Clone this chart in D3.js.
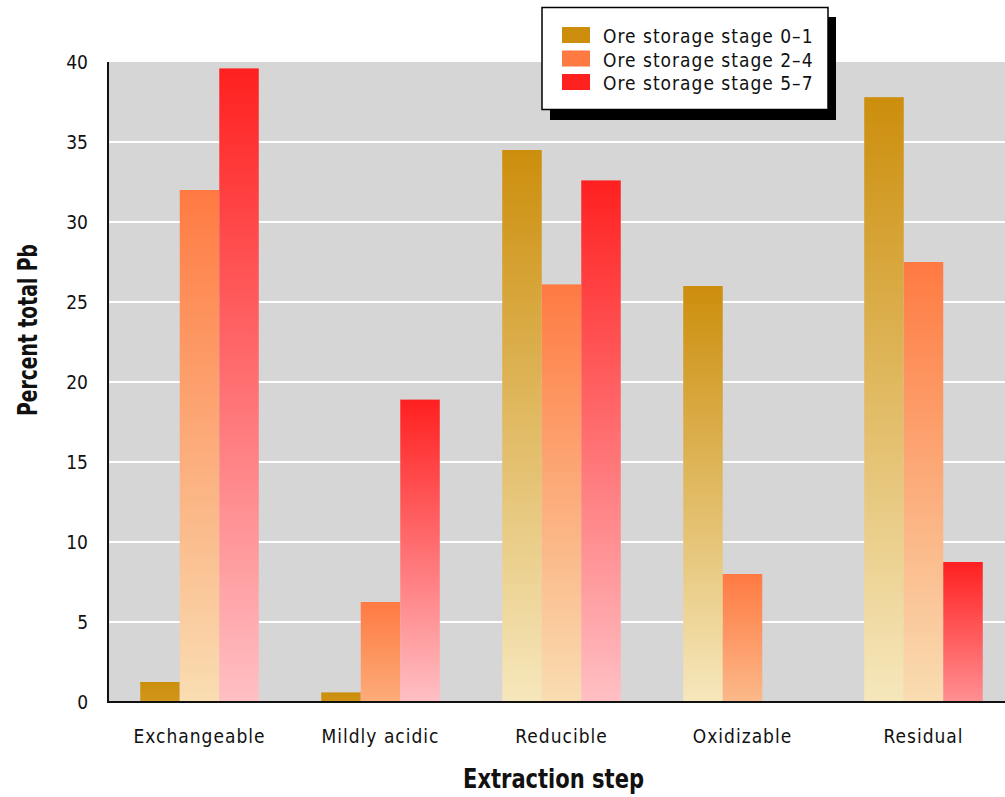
<!DOCTYPE html>
<html><head><meta charset="utf-8">
<script src="https://cdn.jsdelivr.net/npm/d3@7"></script>
<style>
html,body{margin:0;padding:0;background:#fff;}
svg{display:block;}
</style></head>
<body>
<script>
const categories = ["Exchangeable","Mildly acidic","Reducible","Oxidizable","Residual"];
const seriesNames = ["Ore storage stage 0\u20131","Ore storage stage 2\u20134","Ore storage stage 5\u20137"];
const stage01 = [1.25, 0.6, 34.5, 26.0, 37.8];
const stage24 = [32.0, 6.25, 26.1, 8.0, 27.5];
const stage57 = [39.6, 18.9, 32.6, 0, 8.75];
const yTicks = [0,5,10,15,20,25,30,35,40];
const topColors = ["#CC8E0C","#FF7A42","#FF2020"];
const bottomColors = ["#F6E7BC","#F9DDB2","#FFC0C4"];

const W=1005,H=797;
const svg=d3.select("body").append("svg").attr("width",W).attr("height",H);
const defs=svg.append("defs");
const plotL=108, plotR=1005, plotT=62, plotB=702;
const y=d3.scaleLinear().domain([0,40]).range([plotB,plotT]);
const x0=d3.scaleBand().domain(categories).range([109,1014]).paddingInner(0.345).paddingOuter(0.1725);
const x1=d3.scaleBand().domain(d3.range(3)).range([0,x0.bandwidth()]);
const fontN = "'DejaVu Sans Condensed','DejaVu Sans',sans-serif";

svg.append("rect").attr("x",plotL).attr("y",plotT).attr("width",plotR-plotL).attr("height",plotB-plotT).attr("fill","#D6D6D6");
svg.append("g").selectAll("line").data(yTicks.filter(d=>d>0&&d<40)).join("line")
  .attr("x1",plotL).attr("x2",plotR).attr("y1",d=>y(d)).attr("y2",d=>y(d))
  .attr("stroke","#fff").attr("stroke-width",2);

const series=[stage01,stage24,stage57];
const data=[];
categories.forEach((c,i)=>series.forEach((s,j)=>data.push({c,j,v:s[i],id:"g"+i+"_"+j})));
data.forEach(d=>{
  const h=y(0)-y(d.v);
  const t=Math.min(1,h/200);
  const g=defs.append("linearGradient").attr("id",d.id).attr("x1",0).attr("y1",0).attr("x2",0).attr("y2",1);
  g.append("stop").attr("offset","0%").attr("stop-color",topColors[d.j]);
  g.append("stop").attr("offset","100%").attr("stop-color",d3.interpolateRgb(topColors[d.j],bottomColors[d.j])(t));
});
svg.append("g").selectAll("rect").data(data.filter(d=>d.v>0)).join("rect")
  .attr("x",d=>x0(d.c)+x1(d.j)).attr("width",x1.bandwidth())
  .attr("y",d=>y(d.v)).attr("height",d=>y(0)-y(d.v))
  .attr("fill",d=>`url(#${d.id})`);

// axes
const yAxis=svg.append("g").attr("transform",`translate(${plotL},0)`)
  .call(d3.axisLeft(y).tickValues(yTicks).tickSize(0).tickPadding(20).tickFormat(d3.format("d")));
yAxis.select(".domain").remove();
yAxis.selectAll("text").attr("font-family",fontN).attr("font-size",19).attr("fill","#111");
svg.append("line").attr("x1",plotL).attr("x2",plotL).attr("y1",plotT).attr("y2",plotB+1).attr("stroke","#111").attr("stroke-width",2);

const xAxis=svg.append("g").attr("transform",`translate(0,${plotB})`)
  .call(d3.axisBottom(x0).tickSize(0).tickPadding(28));
xAxis.select(".domain").remove();
xAxis.selectAll("text").attr("font-family",fontN).attr("font-size",19).attr("letter-spacing","1px").attr("fill","#111");
svg.append("line").attr("x1",plotL).attr("x2",plotR).attr("y1",plotB).attr("y2",plotB).attr("stroke","#111").attr("stroke-width",2);

svg.append("text").attr("x",553.5).attr("y",788).attr("text-anchor","middle")
  .attr("font-family",fontN).attr("font-weight","bold").attr("font-size",27)
  .attr("textLength",181).attr("lengthAdjust","spacingAndGlyphs").attr("fill","#111").text("Extraction step");
svg.append("text").attr("transform","translate(37,330) rotate(-90)").attr("text-anchor","middle")
  .attr("font-family",fontN).attr("font-weight","bold").attr("font-size",27)
  .attr("textLength",172).attr("lengthAdjust","spacingAndGlyphs").attr("fill","#111").text("Percent total Pb");

// legend
const lg=svg.append("g");
lg.append("rect").attr("x",550).attr("y",17).attr("width",286).attr("height",103).attr("fill","#000");
lg.append("rect").attr("x",542).attr("y",7.5).attr("width",286).attr("height",102).attr("fill","#fff").attr("stroke","#000").attr("stroke-width",1.5);
seriesNames.forEach((n,j)=>{
  const base=43+j*23.5;
  lg.append("rect").attr("x",562).attr("y",base-16).attr("width",28).attr("height",16).attr("fill",topColors[j]);
  lg.append("text").attr("x",603).attr("y",base).attr("font-family",fontN).attr("font-size",19)
    .attr("letter-spacing","1px").attr("fill","#111").text(n);
});
</script>
</body></html>
